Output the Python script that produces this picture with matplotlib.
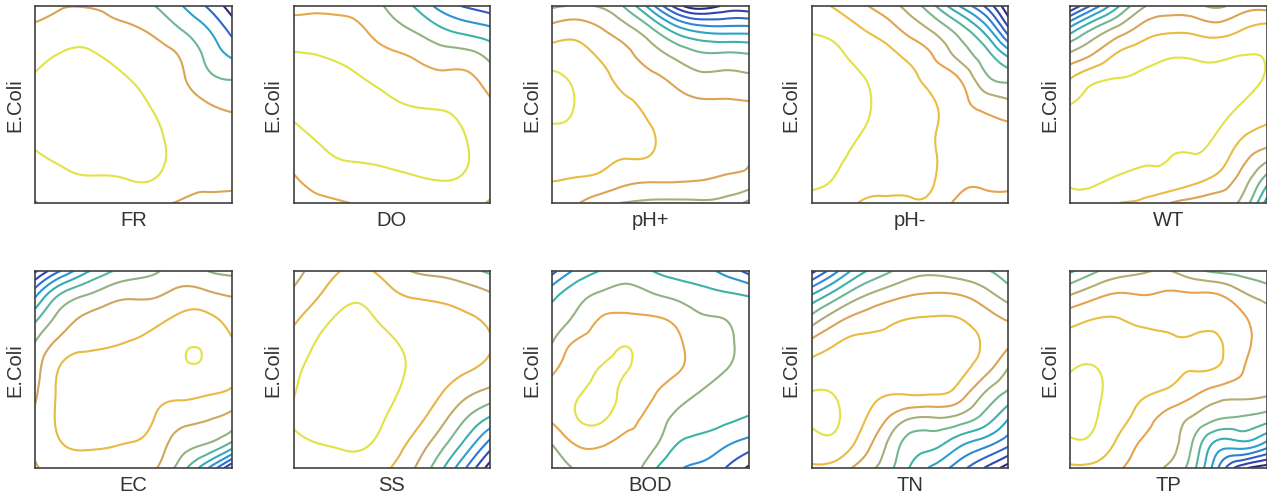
import numpy as np
import matplotlib
matplotlib.use("Agg")
import matplotlib.pyplot as plt
import matplotlib.tri as mtri
from matplotlib.colors import LinearSegmentedColormap, Normalize

plt.rcParams['font.family'] = ['Liberation Sans', 'DejaVu Sans']

features = ["FR", "DO", "pH+", "pH-", "WT", "EC", "SS", "BOD", "TN", "TP"]
y_label = "E.Coli"

# grid nodes: normalised feature value (columns) and normalised E.Coli value (rows, top to bottom)
grid_x = [0.0, 0.125, 0.25, 0.375, 0.5, 0.625, 0.75, 0.875, 1.0]
grid_y = [1.0, 0.875, 0.75, 0.625, 0.5, 0.375, 0.25, 0.125, 0.0]

# partial-dependence surfaces (contour-level units)
FR_z = [
    [3.8, 3.95, 3.97, 3.85, 3.6, 2.9, 2.0, 0.9, -0.5],
    [4.15, 4.4, 4.6, 4.3, 4.1, 3.75, 3.0, 2.1, 0.7],
    [4.7, 5.05, 5.15, 4.85, 4.5, 4.3, 3.85, 2.75, 1.85],
    [5.1, 5.35, 5.45, 5.3, 4.95, 4.6, 4.1, 3.3, 3.0],
    [5.3, 5.45, 5.5, 5.45, 5.25, 4.85, 4.45, 4.05, 3.8],
    [5.2, 5.4, 5.45, 5.45, 5.35, 5.05, 4.65, 4.35, 4.3],
    [4.95, 5.15, 5.25, 5.3, 5.3, 5.15, 4.65, 4.4, 4.35],
    [4.5, 4.8, 4.95, 4.95, 5.05, 4.95, 4.4, 4.2, 4.15],
    [3.95, 4.3, 4.4, 4.45, 4.5, 4.2, 3.9, 3.8, 3.85],
]
DO_z = [
    [3.85, 3.85, 3.8, 3.55, 2.7, 1.85, 0.6, -0.1, -0.6],
    [4.35, 4.4, 4.3, 3.98, 3.4, 2.9, 2.2, 1.7, 1.3],
    [5.1, 5.0, 4.8, 4.45, 4.15, 3.85, 3.45, 3.35, 2.7],
    [5.3, 5.3, 5.25, 4.98, 4.7, 4.45, 4.3, 4.25, 3.55],
    [5.2, 5.3, 5.35, 5.3, 5.1, 4.95, 4.9, 4.7, 4.15],
    [4.9, 5.15, 5.3, 5.35, 5.35, 5.3, 5.25, 4.95, 4.5],
    [4.5, 4.85, 5.1, 5.15, 5.25, 5.3, 5.3, 5.05, 4.6],
    [3.9, 4.4, 4.6, 4.7, 4.8, 4.95, 5.05, 4.9, 4.4],
    [3.5, 3.75, 3.95, 4.1, 4.2, 4.3, 4.35, 4.3, 3.9],
]
PHP_z = [
    [5.85, 6.05, 5.9, 4.8, 2.5, -0.3, -1.6, -0.85, -0.85],
    [7.4, 7.6, 7.1, 6.4, 5.3, 3.7, 2.8, 2.6, 2.6],
    [8.5, 8.4, 7.85, 7.25, 6.5, 5.8, 5.2, 5.2, 5.1],
    [9.2, 8.85, 8.3, 7.7, 7.3, 6.8, 6.35, 6.35, 6.25],
    [9.3, 8.95, 8.45, 8.15, 7.75, 7.35, 7.15, 7.15, 7.1],
    [8.9, 8.8, 8.4, 8.3, 8.05, 7.55, 7.4, 7.35, 7.3],
    [8.5, 8.45, 8.2, 8.1, 8.02, 7.5, 7.35, 7.25, 7.03],
    [8.05, 7.97, 7.8, 7.35, 7.2, 7.15, 7.07, 6.9, 6.7],
    [7.6, 7.1, 6.3, 5.95, 5.8, 5.75, 5.8, 5.6, 4.7],
]
PHM_z = [
    [9.5, 8.85, 8.2, 7.5, 6.6, 5.1, 3.0, 1.0, -1.9],
    [9.95, 9.7, 9.1, 8.55, 7.7, 6.85, 5.6, 3.8, 0.4],
    [10.25, 10.15, 9.7, 9.3, 8.75, 7.9, 6.7, 5.5, 3.8],
    [10.4, 10.3, 10.1, 9.6, 9.25, 8.65, 8.05, 6.4, 5.8],
    [10.4, 10.35, 10.2, 9.7, 9.4, 9.05, 8.35, 7.7, 7.3],
    [10.35, 10.3, 10.05, 9.65, 9.4, 9.05, 8.45, 8.2, 8.15],
    [10.25, 10.15, 9.8, 9.5, 9.35, 9.05, 8.45, 8.3, 8.25],
    [10.1, 9.95, 9.45, 9.3, 9.2, 9.02, 8.3, 8.2, 8.15],
    [9.85, 9.5, 8.95, 8.83, 8.9, 8.7, 7.7, 7.6, 7.8],
]
WT_z = [
    [-2.1, 0.5, 3.0, 4.9, 5.4, 5.3, 4.85, 5.5, 5.6],
    [2.55, 4.3, 5.5, 6.5, 6.85, 6.8, 6.55, 7.05, 7.4],
    [5.25, 6.15, 7.2, 7.6, 7.9, 7.9, 7.85, 8.0, 7.95],
    [7.05, 7.85, 8.05, 8.25, 8.4, 8.3, 8.2, 8.25, 7.9],
    [8.0, 8.25, 8.45, 8.5, 8.55, 8.4, 8.3, 7.95, 7.4],
    [8.3, 8.4, 8.5, 8.45, 8.4, 8.25, 8.03, 7.3, 6.85],
    [8.3, 8.4, 8.35, 8.2, 8.02, 8.0, 7.6, 6.45, 5.6],
    [8.1, 8.15, 7.9, 7.7, 7.7, 7.35, 6.75, 5.6, 3.6],
    [7.8, 7.55, 7.0, 6.8, 6.05, 5.6, 5.3, 4.7, 1.5],
]
EC_z = [
    [-0.2, 1.95, 3.7, 4.85, 5.5, 5.95, 6.35, 6.0, 5.75],
    [2.8, 5.1, 6.0, 6.6, 6.85, 6.95, 7.4, 7.25, 6.95],
    [4.85, 6.4, 7.2, 7.5, 7.6, 7.85, 8.25, 8.25, 7.7],
    [6.1, 7.35, 7.85, 7.95, 8.1, 8.35, 8.8, 8.75, 8.1],
    [6.55, 8.05, 8.3, 8.35, 8.45, 8.55, 8.75, 8.7, 8.15],
    [6.85, 8.15, 8.45, 8.5, 8.6, 8.3, 8.2, 8.05, 7.8],
    [7.15, 8.15, 8.45, 8.45, 8.5, 7.85, 7.3, 7.05, 6.6],
    [7.15, 7.95, 8.15, 8.1, 7.95, 7.45, 6.45, 6.0, 4.8],
    [6.9, 7.4, 7.55, 7.45, 7.25, 6.95, 5.35, 3.1, -0.2],
]
EC_peak = [(0.80, 0.567, 9.1)]
SS_z = [
    [5.7, 6.4, 7.05, 7.1, 6.5, 5.9, 5.7, 5.3, 4.8],
    [6.2, 6.95, 7.7, 7.75, 7.2, 6.9, 6.8, 6.55, 6.15],
    [6.85, 7.65, 8.2, 8.15, 7.75, 7.5, 7.3, 7.15, 6.85],
    [7.4, 8.1, 8.4, 8.35, 8.1, 7.75, 7.5, 7.4, 7.03],
    [7.8, 8.3, 8.45, 8.4, 8.2, 7.8, 7.4, 7.1, 6.7],
    [7.97, 8.35, 8.45, 8.4, 8.1, 7.6, 7.0, 6.2, 5.6],
    [8.05, 8.3, 8.4, 8.3, 7.85, 7.25, 6.3, 5.0, 3.8],
    [7.85, 8.0, 8.1, 8.05, 7.5, 6.6, 5.35, 3.7, 1.6],
    [7.55, 7.6, 7.7, 7.6, 6.95, 5.9, 4.2, 2.0, -0.6],
]
BOD_z = [
    [0.6, 2.25, 3.05, 3.4, 3.05, 2.6, 2.4, 1.7, 0.6],
    [2.7, 3.65, 4.2, 4.45, 4.15, 3.8, 3.4, 3.2, 2.95],
    [3.45, 4.25, 5.1, 5.25, 5.15, 4.85, 4.2, 4.02, 3.5],
    [4.05, 5.2, 5.6, 5.97, 5.5, 5.2, 4.5, 4.15, 3.7],
    [4.85, 5.6, 6.05, 6.05, 5.5, 5.15, 4.45, 4.03, 3.65],
    [5.3, 5.9, 6.2, 5.8, 5.15, 4.45, 3.95, 3.65, 3.4],
    [5.15, 5.97, 6.1, 5.4, 4.7, 3.8, 3.4, 3.2, 2.9],
    [4.05, 5.1, 5.15, 4.7, 4.35, 3.1, 2.7, 2.2, 1.6],
    [3.3, 4.1, 4.3, 4.65, 3.4, 2.2, 1.8, 1.05, -0.2],
]
TN_z = [
    [0.6, 2.8, 4.7, 5.75, 6.55, 6.75, 6.45, 6.15, 5.5],
    [4.1, 5.6, 6.85, 7.55, 8.0, 8.15, 8.05, 7.45, 6.55],
    [6.5, 7.75, 8.45, 8.8, 9.05, 9.1, 9.05, 8.55, 7.95],
    [8.4, 9.02, 9.25, 9.15, 9.35, 9.3, 9.3, 8.9, 8.1],
    [9.4, 9.55, 9.45, 9.25, 9.35, 9.3, 9.2, 8.4, 6.9],
    [10.05, 9.95, 9.4, 9.05, 9.05, 9.02, 8.5, 6.95, 5.75],
    [10.15, 10.1, 9.2, 8.1, 7.0, 6.9, 6.6, 5.6, 4.0],
    [9.6, 9.7, 8.65, 7.1, 5.6, 5.3, 4.3, 3.45, 2.3],
    [8.85, 8.6, 7.6, 6.5, 4.95, 3.7, 2.45, 1.0, -0.6],
]
TP_z = [
    [2.8, 3.85, 4.55, 4.9, 5.05, 4.35, 3.8, 3.6, 3.2],
    [5.05, 5.75, 6.15, 6.02, 6.2, 6.15, 6.1, 5.25, 4.65],
    [6.7, 7.05, 7.05, 6.8, 6.8, 6.75, 6.85, 6.2, 5.4],
    [7.45, 7.6, 7.45, 7.35, 7.15, 7.15, 7.12, 6.3, 5.6],
    [7.95, 8.05, 7.6, 7.5, 7.25, 7.03, 6.9, 6.05, 5.5],
    [8.2, 8.15, 7.55, 7.1, 6.75, 6.15, 5.45, 5.3, 5.1],
    [8.2, 8.05, 7.35, 6.45, 5.6, 4.85, 4.05, 3.85, 3.4],
    [7.85, 7.75, 6.75, 5.85, 5.35, 3.9, 1.7, 1.75, 0.7],
    [6.8, 6.7, 6.1, 5.5, 4.85, 3.3, 0.1, -2.7, -3.6],
]

# contour levels and colour range of each panel
FR_levels, FR_crange = [0, 1, 2, 3, 4, 5], (0, 5)
DO_levels, DO_crange = [0, 1, 2, 3, 4, 5], (-1, 5)
PHP_levels, PHP_crange = list(range(-1, 10)), (-1, 9)
PHM_levels, PHM_crange = list(range(-1, 11)), (-1, 10)
WT_levels, WT_crange = list(range(-2, 9)), (-2, 8)
EC_levels, EC_crange = list(range(0, 10)), (0, 9)
SS_levels, SS_crange = list(range(0, 9)), (0, 8)
BOD_levels, BOD_crange = list(range(0, 7)), (0, 6)
TN_levels, TN_crange = list(range(0, 11)), (0, 10)
TP_levels, TP_crange = list(range(-3, 9)), (-3, 8)

panels = [
    (features[0], FR_z, FR_levels, FR_crange, []),
    (features[1], DO_z, DO_levels, DO_crange, []),
    (features[2], PHP_z, PHP_levels, PHP_crange, []),
    (features[3], PHM_z, PHM_levels, PHM_crange, []),
    (features[4], WT_z, WT_levels, WT_crange, []),
    (features[5], EC_z, EC_levels, EC_crange, EC_peak),
    (features[6], SS_z, SS_levels, SS_crange, []),
    (features[7], BOD_z, BOD_levels, BOD_crange, []),
    (features[8], TN_z, TN_levels, TN_crange, []),
    (features[9], TP_z, TP_levels, TP_crange, []),
]

cmap = LinearSegmentedColormap.from_list("parula_like", [
    (0.00, "#2b2a7c"), (0.12, "#3348b4"), (0.25, "#2d78d6"), (0.37, "#2a9fd0"),
    (0.50, "#3bb2a8"), (0.62, "#7ab78e"), (0.72, "#b0ad72"), (0.82, "#e6a24e"),
    (0.91, "#e9bf40"), (1.00, "#e2e245"),
])

W, H = 1267, 502
fig = plt.figure(figsize=(W / 100, H / 100), dpi=100)
lefts = [35, 293.5, 552, 811.5, 1070]
tops = [7, 272]
size = 197

for i, (name, z, levels, crange, extra) in enumerate(panels):
    r, c = divmod(i, 5)
    ax = fig.add_axes([lefts[c] / W, 1 - (tops[r] + size) / H, size / W, size / H])
    X, Y = np.meshgrid(grid_x, grid_y)
    xs = list(X.ravel())
    ys = list(Y.ravel())
    zs = list(np.asarray(z, float).ravel())
    for (px, py, pz) in extra:
        xs.append(px); ys.append(py); zs.append(pz)
    tri = mtri.Triangulation(np.array(xs), np.array(ys))
    refiner = mtri.UniformTriRefiner(tri)
    tri_f, z_f = refiner.refine_field(np.array(zs), subdiv=4)
    norm = Normalize(*crange)
    cols = [cmap(norm(l)) for l in levels]
    ax.tricontour(tri_f, z_f, levels=levels, colors=cols, linewidths=1.5)
    ax.set_xlim(0, 1)
    ax.set_ylim(0, 1)
    ax.set_xticks([])
    ax.set_yticks([])
    ax.set_xlabel(name, fontsize=14.5, color="#333333", labelpad=5)
    ax.set_ylabel(y_label, fontsize=14.5, color="#333333", labelpad=8)
    for s in ax.spines.values():
        s.set_color("#404040")
        s.set_linewidth(1.2)

fig.savefig("out.png", dpi=100)
